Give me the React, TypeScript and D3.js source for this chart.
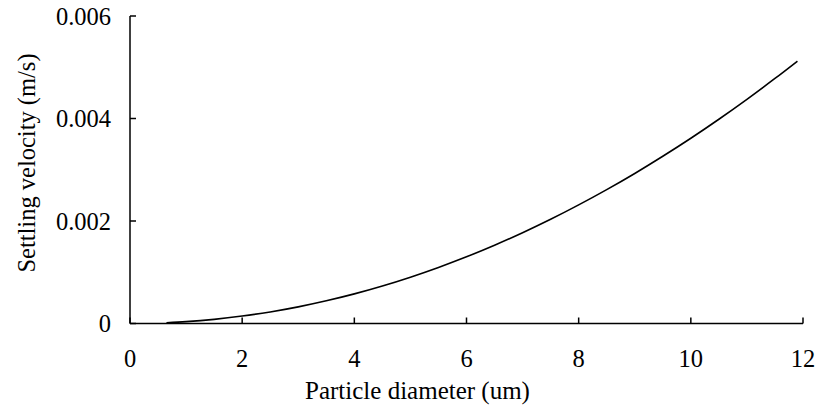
import React from "react";
import * as d3 from "d3";

const diameters = [0.65, 1.0, 1.5, 2.0, 2.5, 3.0, 3.5, 4.0, 4.5, 5.0, 5.5, 6.0, 6.5, 7.0, 7.5, 8.0, 8.5, 9.0, 9.5, 10.0, 10.5, 11.0, 11.5, 11.9];
const velocities = [0.000015, 0.000036, 0.000081, 0.000145, 0.000226, 0.000325, 0.000443, 0.000578, 0.000732, 0.000904, 0.001094, 0.001301, 0.001527, 0.001771, 0.002033, 0.002314, 0.002612, 0.002928, 0.003263, 0.003615, 0.003986, 0.004374, 0.004781, 0.005119];
const xTicks = [0, 2, 4, 6, 8, 10, 12];
const yTicks = [0, 0.002, 0.004, 0.006];
const yTickLabels = ["0", "0.002", "0.004", "0.006"];

const W = 817;
const H = 409;
const textStyle = { fontFamily: '"Liberation Serif", "Times New Roman", Times, serif' };

export default function App() {
  const x = d3.scaleLinear().domain([0, 12]).range([130, 803]);
  const y = d3.scaleLinear().domain([0, 0.006]).range([323.5, 16]);
  const pts: [number, number][] = diameters.map((d, i) => [d, velocities[i]]);
  const line = d3
    .line<[number, number]>()
    .x((p) => x(p[0]))
    .y((p) => y(p[1]))
    .curve(d3.curveMonotoneX);

  return (
    <svg width={W} height={H} style={{ position: "absolute", left: 0, top: 0, background: "#fff" }}>
      <rect x={0} y={0} width={W} height={H} fill="#fff" />
      <line x1={x(0)} x2={x(0)} y1={y(0.006)} y2={y(0)} stroke="#000" strokeWidth={1.5} />
      <line x1={x(0)} x2={x(12)} y1={y(0)} y2={y(0)} stroke="#000" strokeWidth={1.5} />
      <g style={textStyle} fill="#000">
        {yTicks.map((t, i) => (
          <g key={"y" + i}>
            <line x1={x(0)} x2={x(0) + 6} y1={y(t)} y2={y(t)} stroke="#000" strokeWidth={1.5} />
            <text x={111} y={y(t)} dy="0.35em" textAnchor="end" fontSize={24.5}>
              {yTickLabels[i]}
            </text>
          </g>
        ))}
        {xTicks.map((t, i) => (
          <g key={"x" + i}>
            <line x1={x(t)} x2={x(t)} y1={y(0)} y2={y(0) - 6} stroke="#000" strokeWidth={1.5} />
            <text x={x(t)} y={367} textAnchor="middle" fontSize={24.5}>
              {String(t)}
            </text>
          </g>
        ))}
        <text x={417.5} y={399} textAnchor="middle" fontSize={25}>
          Particle diameter (um)
        </text>
        <text transform={`translate(35, 163) rotate(-90)`} textAnchor="middle" fontSize={24.5}>
          Settling velocity (m/s)
        </text>
      </g>
      <path d={line(pts) || ""} fill="none" stroke="#000" strokeWidth={1.6} />
    </svg>
  );
}
